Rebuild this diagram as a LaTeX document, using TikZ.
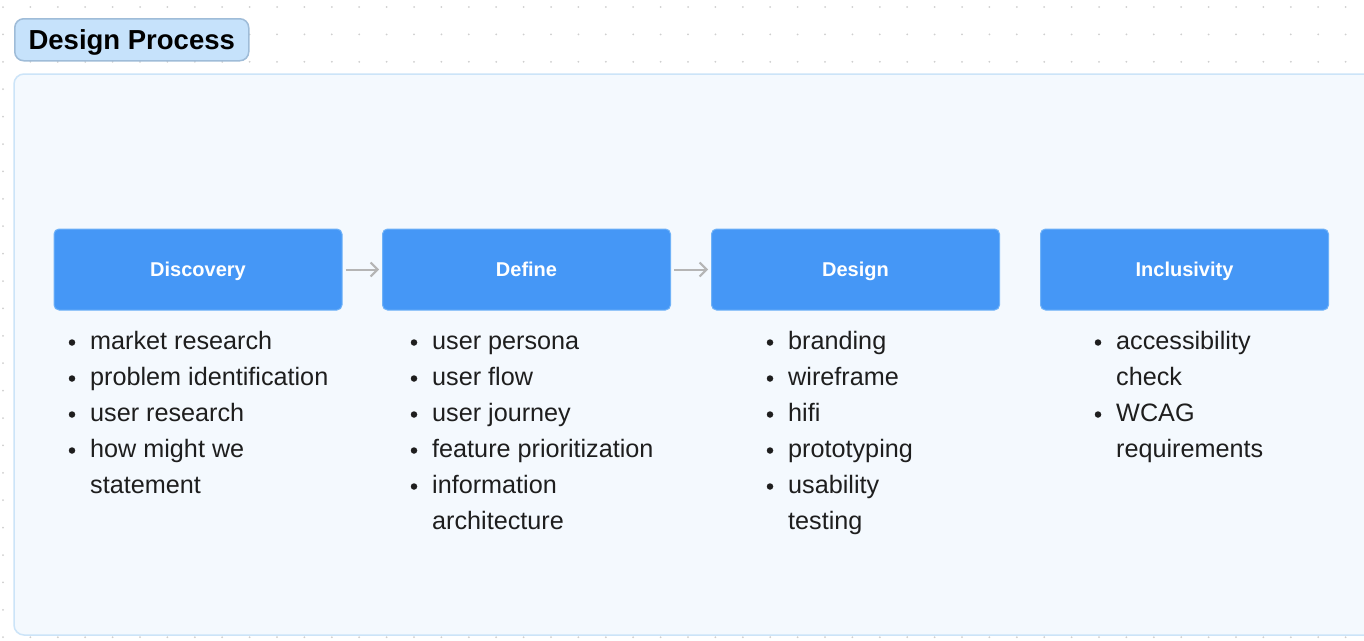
\documentclass[tikz,border=0pt]{standalone}
\usepackage{fontspec}
\setmainfont{Liberation Sans}
\usetikzlibrary{arrows.meta}
\definecolor{dotc}{HTML}{CFCFCF}
\definecolor{titlefill}{HTML}{C6E2FB}
\definecolor{titledraw}{HTML}{9FBCD8}
\definecolor{contfill}{HTML}{F4F9FE}
\definecolor{contdraw}{HTML}{CCE4F8}
\definecolor{boxfill}{HTML}{4597F6}
\definecolor{boxdraw}{HTML}{6FB2F8}
\definecolor{arrowc}{HTML}{B5B5B5}
\definecolor{txt}{HTML}{1E1E1E}
\tikzset{
  stagebox/.style={draw=boxdraw, line width=1pt, fill=boxfill, rounded corners=5pt,
    minimum width=288pt, minimum height=81pt, inner sep=0pt,
    text height=14.5pt, text depth=0pt,
    text=white, font=\fontsize{20}{24}\selectfont\bfseries},
  flow/.style={draw=arrowc, line width=2pt, shorten <=3pt, shorten >=3pt,
    -{Straight Barb[length=7pt,width=14pt,line width=2pt]}},
  item/.style={anchor=base west, inner sep=0pt, text=txt, font=\fontsize{25.2}{28}\selectfont},
  bul/.style={circle, fill=txt, inner sep=0pt, minimum size=6.5pt}
}
\begin{document}
\begin{tikzpicture}[x=1pt,y=-1pt]
\clip (0,0) rectangle (1364,640);
\useasboundingbox (0,0) rectangle (1364,640);
\fill[white] (0,0) rectangle (1364,640);
% dot grid
\foreach \i in {0,...,49}{
  \foreach \j in {0,...,23}{
    \fill[dotc] ({3+27.4*\i},{7+27.4*\j}) circle (1pt);
  }
}
% title
\node[draw=titledraw, line width=1.5pt, fill=titlefill, rounded corners=9pt,
  minimum width=234pt, minimum height=42pt, inner sep=0pt, anchor=north west,
  text height=19.5pt, text depth=0pt,
  font=\fontsize{27.5}{30}\selectfont\bfseries, text=black] (title) at (14,18) {Design Process};
% container
\draw[draw=contdraw, line width=1.5pt, fill=contfill, rounded corners=10pt]
  (14,74) rectangle (1400,635);
% stage boxes
\node[stagebox] (disc) at (198,269.5) {Discovery};
\node[stagebox] (def)  at (526.5,269.5) {Define};
\node[stagebox] (des)  at (855.5,269.5) {Design};
\node[stagebox] (inc)  at (1184.5,269.5) {Inclusivity};
\draw[flow] (disc.east) -- (def.west);
\draw[flow] (def.east) -- (des.west);
% lists
\foreach \t [count=\k] in {market research, problem identification, user research, how might we}{
  \node[bul] (db\k) at (72,{342.5+36*(\k-1)}) {};
  \node[item] (dt\k) at (90,{349.5+36*(\k-1)}) {\t};
}
\node[item] (dt5) at (90,493.5) {statement};
\foreach \t [count=\k] in {user persona, user flow, user journey, feature prioritization, information}{
  \node[bul] (fb\k) at (414,{342.5+36*(\k-1)}) {};
  \node[item] (ft\k) at (432,{349.5+36*(\k-1)}) {\t};
}
\node[item] (ft6) at (432,529.5) {architecture};
\foreach \t [count=\k] in {branding, wireframe, hifi, prototyping, usability}{
  \node[bul] (gb\k) at (770,{342.5+36*(\k-1)}) {};
  \node[item] (gt\k) at (788,{349.5+36*(\k-1)}) {\t};
}
\node[item] (gt6) at (788,529.5) {testing};
\node[bul] (ib1) at (1098,342.5) {};
\node[item] (it1) at (1116,349.5) {accessibility};
\node[item] (it2) at (1116,385.5) {check};
\node[bul] (ib2) at (1098,414.5) {};
\node[item] (it3) at (1116,421.5) {WCAG};
\node[item] (it4) at (1116,457.5) {requirements};
\end{tikzpicture}
\end{document}
